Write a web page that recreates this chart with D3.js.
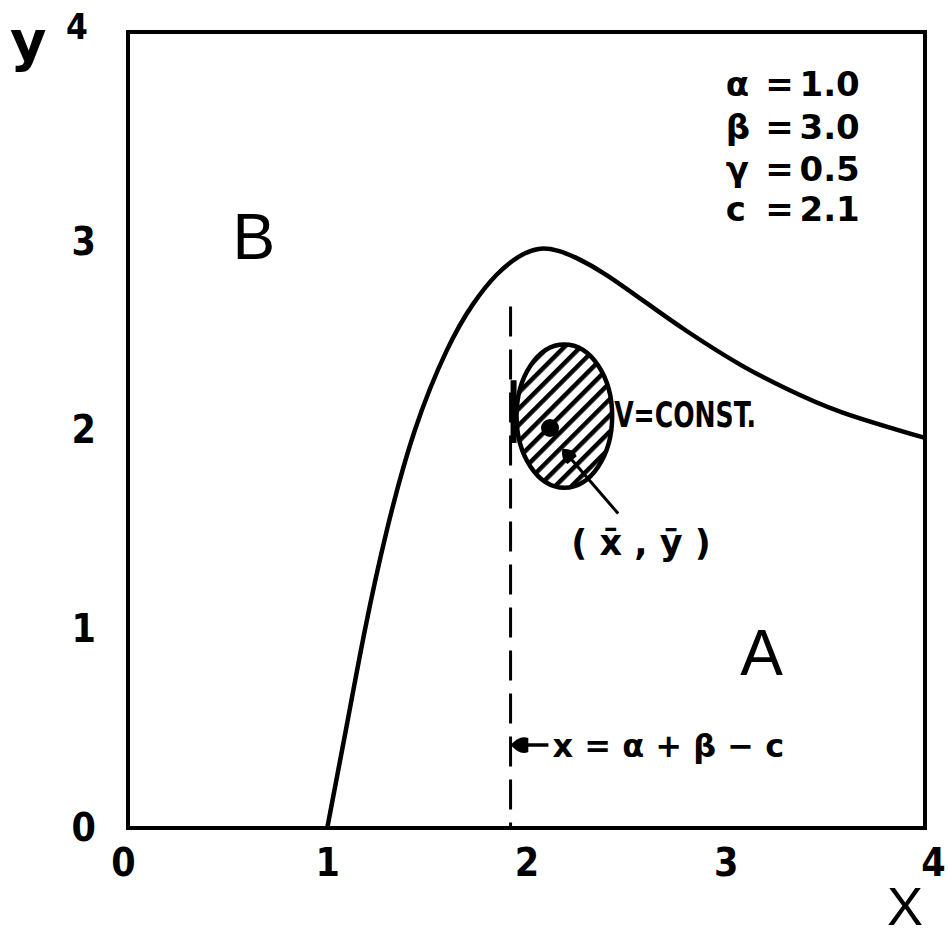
<!DOCTYPE html>
<meta charset="utf-8">
<style>
body { margin: 0; background: #fff; }
svg text { fill: #000; }
.tick text { font-family: "Liberation Sans Narrow", "DejaVu Sans Condensed", sans-serif; font-weight: bold; font-size: 39px; }
</style>
<body>
<div id="chart"></div>
<script src="https://d3js.org/d3.v7.min.js"></script>
<script>
// boundary curve between region A and region B
var curveX = [1.0, 1.095, 1.19, 1.30, 1.44, 1.60, 1.73, 1.85, 1.96, 2.06, 2.16, 2.26, 2.40, 2.60, 2.80, 3.07, 3.30, 3.58, 4.0];
var curveY = [0.0, 0.50, 1.00, 1.50, 2.00, 2.40, 2.63, 2.78, 2.87, 2.91, 2.90, 2.86, 2.78, 2.64, 2.50, 2.33, 2.21, 2.09, 1.96];
var xTicks = [0, 1, 2, 3, 4];
var yTicks = [0, 1, 2, 3, 4];
// parameters
var paramNames = ["\u03b1", "\u03b2", "\u03b3", "c"];
var paramValues = ["1.0", "3.0", "0.5", "2.1"];
// x = alpha + beta - c
var dashX = 1.92;
var dashTop = 2.62;
// V = const ellipse and its centre
var ellipseCenter = [2.19, 2.07];
var ellipseRadii = [0.24, 0.36];
var meanPoint = [2.118, 2.01];

var margin = {top: 32, right: 23, bottom: 110, left: 128};
var width = 948 - margin.left - margin.right;
var height = 938 - margin.top - margin.bottom;

var x = d3.scaleLinear().domain([0, 4]).range([0, width]);
var y = d3.scaleLinear().domain([0, 4]).range([height, 0]);

var svg = d3.select("#chart").append("svg")
    .attr("width", 948)
    .attr("height", 938)
  .append("g")
    .attr("transform", "translate(" + margin.left + "," + margin.top + ")");

var defs = svg.append("defs");
var hatch = defs.append("pattern")
    .attr("id", "hatch")
    .attr("patternUnits", "userSpaceOnUse")
    .attr("width", 11.5)
    .attr("height", 11.5)
    .attr("patternTransform", "rotate(45)");
hatch.append("rect").attr("width", 11.5).attr("height", 11.5).attr("fill", "#fff");
hatch.append("rect").attr("width", 4.5).attr("height", 11.5).attr("fill", "#000");

// axes (labels only, the frame is drawn as a box)
var xAxis = svg.append("g")
    .attr("transform", "translate(0," + height + ")")
    .call(d3.axisBottom(x).tickValues(xTicks).tickSize(0).tickPadding(20).tickFormat(d3.format("d")));
xAxis.select(".domain").remove();
xAxis.selectAll(".tick").filter(function(d) { return d === 4; }).select("text").attr("x", 8);
xAxis.selectAll(".tick").filter(function(d) { return d === 0; }).select("text").attr("x", -5);

var yAxis = svg.append("g")
    .call(d3.axisLeft(y).tickValues(yTicks).tickSize(0).tickPadding(32).tickFormat(d3.format("d")));
yAxis.select(".domain").remove();
yAxis.selectAll(".tick").filter(function(d) { return d === 4; }).select("text")
    .attr("dy", 0).attr("y", 6).attr("x", -40).style("font-size", "35px");
yAxis.selectAll(".tick").filter(function(d) { return d === 3; }).select("text").attr("dy", "0.6em");

svg.append("rect")
    .attr("x", 0).attr("y", 0)
    .attr("width", width).attr("height", height)
    .attr("fill", "none")
    .attr("stroke", "#000")
    .attr("stroke-width", 4);

// axis titles
svg.append("text")
    .attr("x", -118).attr("y", 28)
    .style("font-family", "DejaVu Sans, sans-serif")
    .style("font-weight", "bold")
    .style("font-size", "56px")
    .text("y");
svg.append("text")
    .attr("x", x(3.9)).attr("y", height + 97)
    .attr("text-anchor", "middle")
    .style("font-family", "Liberation Sans, sans-serif")
    .style("font-size", "54px")
    .text("X");

// boundary curve
var curveData = curveX.map(function(d, i) { return {x: d, y: curveY[i]}; });
var valueline = d3.line()
    .x(function(d) { return x(d.x); })
    .y(function(d) { return y(d.y); })
    .curve(d3.curveNatural);
svg.append("path")
    .attr("d", valueline(curveData))
    .attr("fill", "none")
    .attr("stroke", "#000")
    .attr("stroke-width", 4.5);

// dashed line x = alpha + beta - c
svg.append("line")
    .attr("x1", x(dashX)).attr("x2", x(dashX))
    .attr("y1", y(dashTop)).attr("y2", y(0))
    .attr("stroke", "#000")
    .attr("stroke-width", 3)
    .attr("stroke-dasharray", "30,13");

// ellipse V = const
svg.append("ellipse")
    .attr("cx", x(ellipseCenter[0]))
    .attr("cy", y(ellipseCenter[1]))
    .attr("rx", x(ellipseRadii[0]) - x(0))
    .attr("ry", y(0) - y(ellipseRadii[1]))
    .attr("fill", "url(#hatch)")
    .attr("stroke", "#000")
    .attr("stroke-width", 4.5);
// thick edge where the ellipse meets the dashed line
svg.append("line")
    .attr("x1", x(dashX) + 3).attr("x2", x(dashX) + 3)
    .attr("y1", y(2.25)).attr("y2", y(1.935))
    .attr("stroke", "#000")
    .attr("stroke-width", 6);

svg.append("circle")
    .attr("cx", x(meanPoint[0]))
    .attr("cy", y(meanPoint[1]))
    .attr("r", 9)
    .attr("fill", "#000");

// arrow heads
defs.append("marker")
    .attr("id", "arrow")
    .attr("viewBox", "0 0 10 10")
    .attr("refX", 9).attr("refY", 5)
    .attr("markerWidth", 6).attr("markerHeight", 5)
    .attr("markerUnits", "strokeWidth")
    .attr("orient", "auto")
  .append("path")
    .attr("d", "M0,1Q5,-1 10,5Q5,11 0,9z")
    .attr("fill", "#000");

// leader to the mean point
svg.append("line")
    .attr("x1", x(2.46)).attr("y1", y(1.58))
    .attr("x2", x(2.185)).attr("y2", y(1.90))
    .attr("stroke", "#000")
    .attr("stroke-width", 3)
    .attr("marker-end", "url(#arrow)");

// leader to the dashed line
svg.append("line")
    .attr("x1", x(2.11)).attr("y1", y(0.417))
    .attr("x2", x(dashX) + 2).attr("y2", y(0.417))
    .attr("stroke", "#000")
    .attr("stroke-width", 3.5)
    .attr("marker-end", "url(#arrow)");

// labels
var lab = "DejaVu Sans, sans-serif";
svg.append("text")
    .attr("x", x(0.632)).attr("y", y(2.86))
    .attr("text-anchor", "middle")
    .style("font-family", "Liberation Sans, sans-serif")
    .style("font-size", "64px")
    .text("B");
svg.append("text")
    .attr("x", x(3.18)).attr("y", y(0.77))
    .attr("text-anchor", "middle")
    .style("font-family", "Liberation Sans, sans-serif")
    .style("font-size", "64px")
    .text("A");

svg.append("text")
    .attr("x", x(2.44)).attr("y", y(2.015))
    .attr("textLength", 142)
    .attr("lengthAdjust", "spacingAndGlyphs")
    .style("font-family", "Liberation Sans Narrow, DejaVu Sans Condensed, sans-serif")
    .style("font-weight", "bold")
    .style("font-size", "35px")
    .text("V=CONST.");

svg.append("text")
    .attr("x", x(2.575)).attr("y", y(1.37))
    .attr("text-anchor", "middle")
    .style("font-family", lab)
    .style("font-weight", "bold")
    .style("font-size", "35px")
    .style("white-space", "pre")
    .text("( x\u0304 , y\u0304 )");

svg.append("text")
    .attr("x", x(2.13)).attr("y", y(0.357))
    .style("font-family", lab)
    .style("font-weight", "bold")
    .style("font-size", "32px")
    .style("white-space", "pre")
    .text("x = \u03b1 + \u03b2 \u2212 c");

// parameter block
var params = svg.append("g");
var rowY = [3.68, 3.46, 3.25, 3.05];
paramNames.forEach(function(name, i) {
    params.append("text")
        .attr("x", x(3.0)).attr("y", y(rowY[i]))
        .style("font-family", lab).style("font-weight", "bold").style("font-size", "34px")
        .text(name);
    params.append("text")
        .attr("x", x(3.27)).attr("y", y(rowY[i]))
        .attr("text-anchor", "middle")
        .style("font-family", lab).style("font-weight", "bold").style("font-size", "34px")
        .text("=");
    params.append("text")
        .attr("x", x(3.37)).attr("y", y(rowY[i]))
        .style("font-family", lab).style("font-weight", "bold").style("font-size", "34px")
        .text(paramValues[i]);
});
</script>
</body>
